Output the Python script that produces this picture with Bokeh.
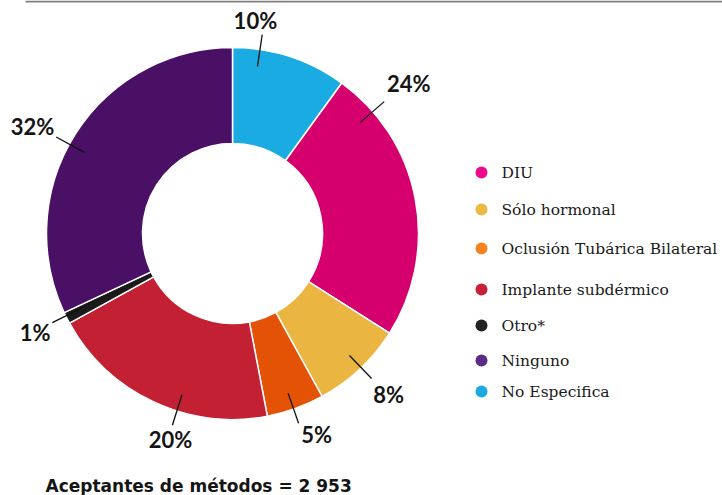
import math
from bokeh.plotting import figure
from bokeh.models import Range1d, ColumnDataSource
from bokeh.core.properties import value
from bokeh.embed import file_html
from bokeh.resources import INLINE

# ---- data (clockwise from 12 o'clock) ----
slice_names = ["No Especifica", "DIU", "Sólo hormonal", "Oclusión Tubárica Bilateral",
               "Implante subdérmico", "Otro*", "Ninguno"]
slice_values = [10, 24, 8, 5, 20, 1, 32]
slice_labels = ["10%", "24%", "8%", "5%", "20%", "1%", "32%"]
slice_colors = ["#1AABE2", "#D5006E", "#EAB541", "#E35205", "#C32033", "#1A1A1A", "#4A1066"]

legend_names = ["DIU", "Sólo hormonal", "Oclusión Tubárica Bilateral", "Implante subdérmico",
                "Otro*", "Ninguno", "No Especifica"]
legend_colors = ["#EC0B8C", "#EDB844", "#F58220", "#C8203A", "#222222", "#5B2C86", "#1BA9E1"]

footnote = "Aceptantes de métodos = 2 953"

# ---- layout (pixel coordinates, y measured upward) ----
W, H = 722, 495
def Y(yref):
    return H - yref

cx, cy = 232, Y(233)
r_out, r_in = 186, 90
# per-label layout: angular nudges (deg, clockwise) for leader and text, text radius
leader_nudge = [-9.5, -30.2, -0.6, 0.6, -7.8, 0.7, -3.7]
text_nudge = [-11.8, -29.2, -0.5, -2.7, -8.6, -0.2, -4.7]
text_radius = [212, 230, 226, 220, 217, 222, 226]
legend_rows = [172, 209, 248, 289, 325, 360, 391]

p = figure(width=W, height=H, output_backend="svg", toolbar_location=None,
           x_range=Range1d(0, W), y_range=Range1d(0, H),
           x_axis_type=None, y_axis_type=None, min_border=0)
p.outline_line_color = None
p.grid.visible = False
p.background_fill_color = "white"

total = float(sum(slice_values))
starts, ends, mids = [], [], []
cum = 0.0
for v in slice_values:
    a0 = math.pi / 2 - 2 * math.pi * cum / total
    cum += v
    a1 = math.pi / 2 - 2 * math.pi * cum / total
    starts.append(a0)
    ends.append(a1)
    mids.append((a0 + a1) / 2)

src = ColumnDataSource(dict(start=starts, end=ends, color=slice_colors, name=slice_names))
p.annular_wedge(x=cx, y=cy, inner_radius=r_in, outer_radius=r_out,
                start_angle="start", end_angle="end", direction="clock",
                fill_color="color", line_color="white", line_width=1.5, source=src)

# leader lines and labels
x0s, y0s, x1s, y1s, tx, ty = [], [], [], [], [], []
for m, ln, tn, tr in zip(mids, leader_nudge, text_nudge, text_radius):
    a = m - math.radians(ln)
    x0s.append(cx + 169 * math.cos(a)); y0s.append(cy + 169 * math.sin(a))
    x1s.append(cx + 201 * math.cos(a)); y1s.append(cy + 201 * math.sin(a))
    b = m - math.radians(tn)
    tx.append(cx + tr * math.cos(b)); ty.append(cy + tr * math.sin(b) + 2)
p.segment(x0=x0s, y0=y0s, x1=x1s, y1=y1s, line_color="#111111", line_width=1.3)
p.text(x=tx, y=ty, text=slice_labels, text_align="center", text_baseline="middle",
       text_font=value("Lato"), text_font_style="bold", text_font_size="22px",
       text_color="#151515")

# legend
n = len(legend_names)
ly = [Y(r) for r in legend_rows]
lx = [481] * n
p.scatter(x=lx, y=ly, size=12, fill_color=legend_colors, line_color=None)
p.text(x=[501] * n, y=ly, text=legend_names, text_align="left", text_baseline="middle",
       text_font=value("DejaVu Serif"), text_font_size="15.5px", text_color="#1a1a1a")

# top rule
p.segment(x0=[25], y0=[H - 1], x1=[722], y1=[H - 1], line_color="#808080", line_width=2)

# footnote
p.text(x=[45], y=[Y(485)], text=[footnote], text_align="left", text_baseline="middle",
       text_font=value("DejaVu Sans"), text_font_style="bold", text_font_size="17px",
       text_color="#151515")

open("out.html", "w").write(file_html(p, INLINE))
